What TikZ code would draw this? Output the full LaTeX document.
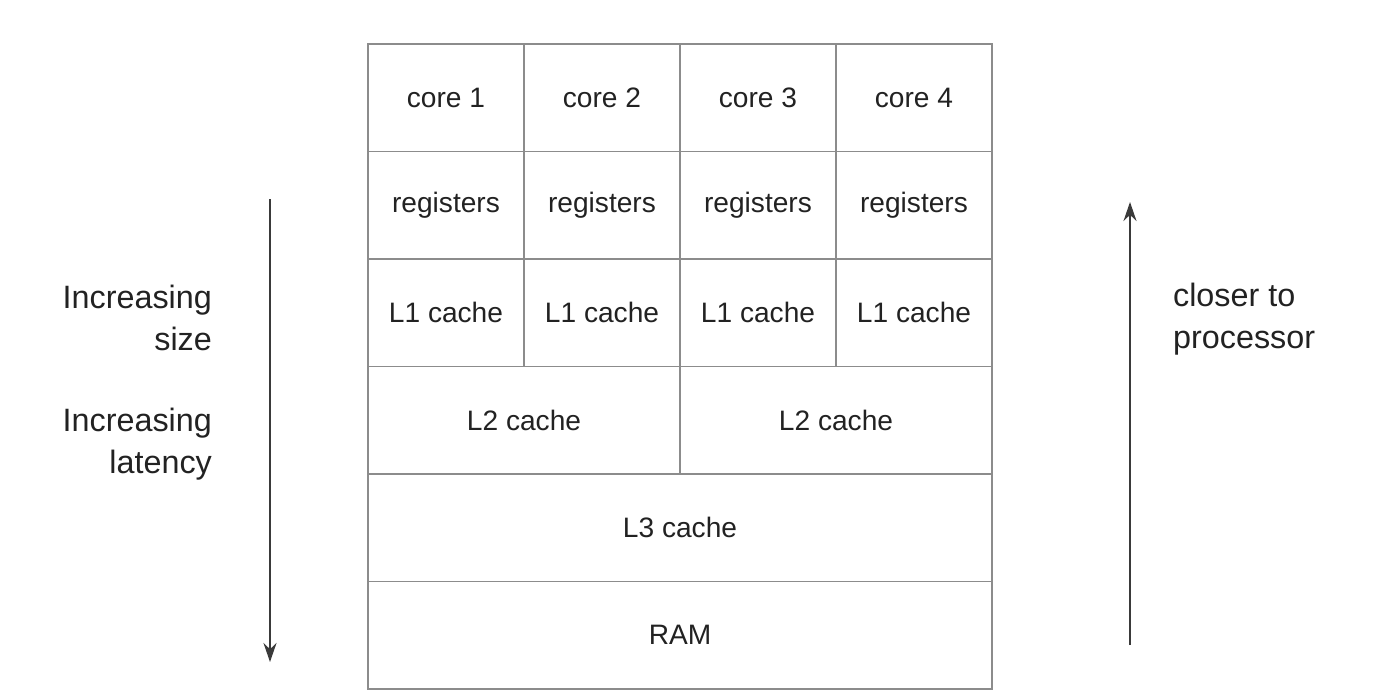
\documentclass[tikz,border=0pt]{standalone}
\usepackage{fontspec}
\setmainfont{Liberation Sans}
\usetikzlibrary{arrows.meta}
\definecolor{gridgray}{HTML}{8C8C8C}
\definecolor{inkgray}{HTML}{222222}
\definecolor{arrowgray}{HTML}{3A3A3A}
\tikzset{
  cell/.style={draw=gridgray, line width=2.6pt, minimum height=5.375cm, inner sep=0pt,
    text=inkgray, font=\fontsize{40}{48}\selectfont},
  small/.style={cell, minimum width=7.8cm},
  half/.style={cell, minimum width=15.6cm},
  full/.style={cell, minimum width=31.2cm},
  sidetext/.style={text=inkgray, font=\fontsize{46}{60}\selectfont, inner sep=0pt},
  pointer/.style={draw=arrowgray, line width=2.8pt, -{Stealth[length=0.95cm, width=0.65cm]}}
}
\begin{document}
\begin{tikzpicture}[x=0.05cm, y=-0.05cm]
  \useasboundingbox (0,0) rectangle (1397,697);
  \foreach \i in {1,...,4} {
    \node[small] (core\i) at (290+156*\i,97.75) {core \i};
    \node[small] (reg\i) at (290+156*\i,205.25) {registers};
    \node[small] (lone\i) at (290+156*\i,312.75) {L1 cache};
  }
  \node[half] (ltwoa) at (524,420.25) {L2 cache};
  \node[half] (ltwob) at (836,420.25) {L2 cache};
  \node[full] (lthree) at (680,527.75) {L3 cache};
  \node[full] (ram) at (680,635.25) {RAM};

  \node[sidetext, align=right, anchor=east] (size) at (212,318) {Increasing\\size};
  \node[sidetext, align=right, anchor=east] (latency) at (212,444) {Increasing\\latency};
  \node[sidetext, align=left, anchor=west] (closer) at (1173,319) {closer to\\processor};

  \coordinate (downtop) at (270,199);
  \coordinate (downbot) at (270,662);
  \coordinate (upbot) at (1130,645);
  \coordinate (uptop) at (1130,202);
  \draw[pointer] (downtop) -- (downbot);
  \draw[pointer] (upbot) -- (uptop);
\end{tikzpicture}
\end{document}
